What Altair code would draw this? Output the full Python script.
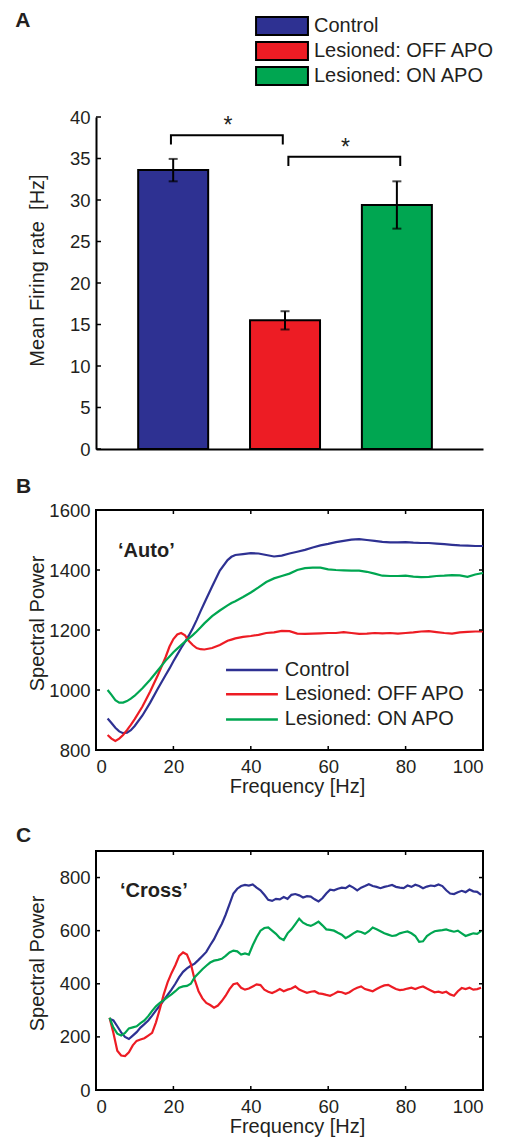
import altair as alt
import pandas as pd

FONT = "Liberation Sans"
INK = "#231F20"

groups = ["Control", "Lesioned: OFF APO", "Lesioned: ON APO"]
bar_colors = ["#2E3192", "#ED1C24", "#00A651"]
line_colors = ["#2E3192", "#ED1C24", "#00A651"]

# ---------------- Panel A: mean firing rate ----------------
bar_pos = [1, 2, 3]
rate_mean = [33.6, 15.5, 29.4]
rate_err = [1.35, 1.1, 2.85]
rate_ticks = [0, 5, 10, 15, 20, 25, 30, 35, 40]

bracket_x0 = [0.98, 2.03]
bracket_x1 = [1.98, 3.03]
bracket_top = [37.8, 35.2]
bracket_leg = [36.7, 34.1]
star_x = [1.49, 2.54]
star_y = [38.1, 35.45]

legA_x0, legA_x1, legA_text_x = 1.741, 2.205, 2.259
legA_y = [50.96, 47.95, 44.94]
legA_half = 1.085
letterA = (-0.411, 51.6)

# ---------------- Panel B: 'Auto' spectra ----------------
auto_freq = [3, 4, 5, 6, 7, 8, 9, 10, 12, 14, 16, 18, 19, 20, 21, 22, 23, 24, 25, 26,
             27, 28, 30, 32, 34, 35, 36, 38, 40, 42, 44, 46, 48, 50, 52, 54, 56, 58, 60, 62,
             64, 66, 68, 70, 72, 74, 76, 78, 80, 82, 84, 86, 88, 90, 92, 94, 96, 98, 100]
auto_control = [905, 890, 874, 862, 856, 858, 866, 880, 915, 958, 1005, 1050, 1072, 1096, 1118, 1140, 1160, 1182, 1206, 1233,
                1262, 1290, 1345, 1398, 1433, 1444, 1450, 1453, 1456, 1455, 1450, 1445, 1448, 1455, 1461, 1467, 1475, 1482, 1487, 1493,
                1497, 1501, 1503, 1500, 1497, 1494, 1492, 1492, 1493, 1491, 1490, 1490, 1488, 1486, 1484, 1482, 1481, 1480, 1480]
auto_off = [850, 838, 830, 838, 850, 866, 884, 903, 945, 995, 1050, 1110, 1145, 1170, 1185, 1190, 1182, 1163, 1150, 1140,
            1136, 1135, 1140, 1150, 1164, 1168, 1172, 1177, 1180, 1184, 1190, 1192, 1197, 1196, 1188, 1187, 1188, 1189, 1190, 1190,
            1193, 1190, 1187, 1188, 1190, 1189, 1190, 1188, 1190, 1192, 1195, 1196, 1193, 1190, 1188, 1192, 1194, 1195, 1195]
auto_on = [1000, 984, 966, 958, 958, 963, 971, 981, 1006, 1034, 1066, 1098, 1112, 1126, 1138, 1150, 1161, 1172, 1183, 1195,
           1208, 1222, 1246, 1265, 1282, 1290, 1296, 1310, 1325, 1342, 1360, 1372, 1380, 1388, 1400, 1406, 1408, 1408, 1402, 1400,
           1399, 1398, 1398, 1394, 1388, 1381, 1380, 1380, 1381, 1378, 1376, 1377, 1380, 1381, 1383, 1382, 1377, 1385, 1390]
auto_yticks = [800, 1000, 1200, 1400, 1600]
freq_ticks = [0, 20, 40, 60, 80, 100]
legB_x0, legB_x1, legB_text_x = 33.6, 47.0, 48.8
legB_y = [1067, 986, 902]
auto_label = (5.7, 1443)
letterB = (-20.7, 1677)

# ---------------- Panel C: 'Cross' spectra ----------------
cross_freq = [3.5, 4.5, 5.5, 6.5, 7.5, 8.5, 9.5, 10.5, 11.5, 12.5,
              13.5, 14.5, 15.5, 16.5, 17.5, 18.5, 19.5, 20.5, 21.5, 22.5,
              23.5, 24.5, 25.5, 26.5, 27.5, 28.5, 29.5, 30.5, 31.5, 32.5,
              33.5, 34.5, 35.5, 36.5, 37.5, 38.5, 39.5, 40.5, 41.5, 42.5,
              43.5, 44.5, 45.5, 46.5, 47.5, 48.5, 49.5, 50.5, 51.5, 52.5,
              53.5, 54.5, 55.5, 56.5, 57.5, 58.5, 59.5, 60.5, 61.5, 62.5,
              63.5, 64.5, 65.5, 66.5, 67.5, 68.5, 69.5, 70.5, 71.5, 72.5,
              73.5, 74.5, 75.5, 76.5, 77.5, 78.5, 79.5, 80.5, 81.5, 82.5,
              83.5, 84.5, 85.5, 86.5, 87.5, 88.5, 89.5, 90.5, 91.5, 92.5,
              93.5, 94.5, 95.5, 96.5, 97.5, 98.5, 99.5]
cross_control = [268, 262, 240, 217, 200, 192, 205, 218, 235, 248,
                 262, 280, 300, 318, 338, 358, 378, 400, 425, 445,
                 458, 468, 476, 490, 505, 520, 545, 568, 598, 625,
                 660, 700, 740, 758, 768, 772, 770, 774, 762, 752,
                 735, 716, 712, 720, 718, 727, 720, 735, 738, 733,
                 725, 730, 728, 718, 710, 722, 740, 754, 752, 758,
                 762, 760, 770, 762, 752, 762, 768, 775, 768, 765,
                 760, 765, 768, 772, 765, 762, 760, 770, 765, 773,
                 768, 760, 766, 770, 768, 774, 768, 752, 740, 738,
                 745, 750, 745, 755, 748, 746, 735]
cross_off = [272, 215, 148, 130, 128, 142, 168, 185, 190, 195,
             205, 215, 255, 305, 360, 405, 440, 470, 505, 518,
             510, 475, 415, 372, 345, 328, 320, 310, 318, 335,
             355, 380, 398, 402, 385, 378, 382, 390, 398, 395,
             378, 370, 365, 372, 380, 372, 378, 382, 390, 378,
             372, 366, 370, 372, 364, 362, 358, 355, 362, 370,
             368, 362, 368, 378, 385, 390, 380, 376, 372, 380,
             388, 394, 396, 388, 380, 376, 378, 382, 385, 380,
             386, 390, 382, 375, 368, 370, 366, 370, 360, 355,
             372, 384, 380, 385, 378, 380, 385]
cross_on = [272, 235, 212, 205, 215, 232, 236, 240, 252, 262,
            278, 298, 315, 328, 338, 350, 360, 372, 385, 390,
            392, 400, 425, 440, 455, 468, 480, 487, 490, 494,
            505, 518, 525, 522, 510, 514, 510, 545, 575, 600,
            610, 612, 600, 588, 572, 565, 590, 605, 625, 645,
            630, 622, 618, 625, 634, 620, 605, 603, 600, 592,
            585, 572, 580, 590, 598, 595, 588, 598, 612, 605,
            598, 590, 585, 580, 582, 590, 594, 597, 590, 580,
            558, 560, 580, 590, 598, 600, 602, 605, 600, 596,
            600, 590, 580, 585, 590, 588, 598]
cross_yticks = [0, 200, 400, 600, 800]
cross_label = (6.2, 727)
letterC = (-20.7, 955)

# ================= build =================
W = 387
HA, HB, HC = 332, 240, 239
TICK_FS = 18.5
TEXT_FS = 20

color_bar = alt.Color("group:N", scale=alt.Scale(domain=groups, range=bar_colors), legend=None)
color_line = alt.Color("group:N", scale=alt.Scale(domain=groups, range=line_colors), legend=None)


def txt(**kw):
    base = dict(font=FONT, color=INK, fontSize=TEXT_FS)
    base.update(kw)
    return base


# ---- Panel A ----
xsA = alt.Scale(domain=[0.31, 3.77], nice=False, zero=False, padding=0)
ysA = alt.Scale(domain=[0, 40], nice=False)
xaxA = alt.Axis(labels=False, ticks=False, tickSize=0, domainColor="black", domainWidth=2,
                grid=False, title=None)
yaxA = alt.Axis(values=rate_ticks, format="d", title="Mean Firing rate\u00a0\u00a0[Hz]",
                labelFontSize=TICK_FS, labelPadding=6,
                ticks=False, tickSize=0, domainColor="black", domainWidth=2, grid=False,
                titleFontSize=TEXT_FS, titleFontWeight="normal", titleX=-49, titleY=153,
                labelColor=INK, titleColor=INK, labelFont=FONT, titleFont=FONT)


def XA(f):
    return alt.X(f, type="quantitative", scale=xsA, axis=xaxA)


def YA(f):
    return alt.Y(f, type="quantitative", scale=ysA, axis=yaxA)


dfA = pd.DataFrame({"group": groups, "pos": bar_pos, "mean": rate_mean,
                    "lo": [m - e for m, e in zip(rate_mean, rate_err)],
                    "hi": [m + e for m, e in zip(rate_mean, rate_err)]})
caps = pd.concat([dfA[["pos", "lo"]].rename(columns={"lo": "v"}),
                  dfA[["pos", "hi"]].rename(columns={"hi": "v"})])

bars = alt.Chart(dfA).mark_bar(size=70, stroke="black", strokeWidth=2).encode(
    x=XA("pos"), y=YA("mean"), color=color_bar)
err = alt.Chart(dfA).mark_rule(color="black", strokeWidth=2).encode(
    x=XA("pos"), y=YA("lo"), y2="hi")
capm = alt.Chart(caps).mark_tick(orient="horizontal", size=9, thickness=2, color="black").encode(
    x=XA("pos"), y=YA("v"))

br_rows = []
for i in range(len(bracket_x0)):
    pts = [(bracket_x0[i], bracket_leg[i]), (bracket_x0[i], bracket_top[i]),
           (bracket_x1[i], bracket_top[i]), (bracket_x1[i], bracket_leg[i])]
    for k, (bx, by) in enumerate(pts):
        br_rows.append({"b": i, "k": k, "bx": bx, "by": by})
brackets = alt.Chart(pd.DataFrame(br_rows)).mark_line(color="black", strokeWidth=2).encode(
    x=XA("bx"), y=YA("by"), detail="b:N", order="k:Q")
stars = alt.Chart(pd.DataFrame({"sx": star_x, "sy": star_y, "s": ["*", "*"]})).mark_text(
    **txt(fontSize=23, baseline="alphabetic", align="center")).encode(x=XA("sx"), y=YA("sy"), text="s:N")

legA = pd.DataFrame({"group": groups, "x0": [legA_x0] * 3, "x1": [legA_x1] * 3, "tx": [legA_text_x] * 3,
                     "yc": legA_y,
                     "y0": [y - legA_half for y in legA_y], "y1": [y + legA_half for y in legA_y]})
legA_rect = alt.Chart(legA).mark_rect(stroke="black", strokeWidth=2).encode(
    x=XA("x0"), x2="x1", y=YA("y0"), y2="y1", color=color_bar)
legA_txt = alt.Chart(legA).mark_text(**txt(align="left", baseline="middle")).encode(
    x=XA("tx"), y=YA("yc"), text="group:N")
letA = alt.Chart(pd.DataFrame({"lx": [letterA[0]], "ly": [letterA[1]], "t": ["A"]})).mark_text(
    **txt(fontSize=21, fontWeight="bold", align="left", baseline="middle")).encode(
    x=XA("lx"), y=YA("ly"), text="t:N")
tickA = alt.Chart(pd.DataFrame({"t": rate_ticks})).mark_rule(color="black", strokeWidth=1.5).encode(
    y=YA("t"), x=alt.value(0), x2=alt.value(5))

chartA = alt.layer(bars, err, capm, brackets, stars, legA_rect, legA_txt, letA, tickA).properties(
    width=W, height=HA)


# ---- Panels B and C ----
def spectrum_panel(freq, series, yticks, ydomain, H, title_y, label, label_pos, letter, letter_pos,
                   legend_rows=None):
    xs = alt.Scale(domain=[0, 100], nice=False, zero=False, padding=0)
    ys = alt.Scale(domain=ydomain, nice=False, zero=False, padding=0)
    xax = alt.Axis(values=freq_ticks, format="d", title="Frequency [Hz]", labelFontSize=TICK_FS,
                   labelPadding=7, ticks=False, tickSize=0, domain=False, grid=False,
                   titleFontSize=TEXT_FS, titleFontWeight="normal", titlePadding=1, titleX=201,
                   labelColor=INK, titleColor=INK, labelFont=FONT, titleFont=FONT)
    yax = alt.Axis(values=yticks, format="d", title="Spectral Power", labelFontSize=TICK_FS,
                   labelPadding=6, ticks=False, tickSize=0, domain=False, grid=False,
                   titleFontSize=TEXT_FS, titleFontWeight="normal", titleX=-49, titleY=title_y,
                   labelColor=INK, titleColor=INK, labelFont=FONT, titleFont=FONT)

    def X(f):
        return alt.X(f, type="quantitative", scale=xs, axis=xax)

    def Y(f):
        return alt.Y(f, type="quantitative", scale=ys, axis=yax)

    rows = []
    for g, vals in zip(groups, series):
        for f, v in zip(freq, vals):
            rows.append({"group": g, "freq": f, "val": v})
    lines = alt.Chart(pd.DataFrame(rows)).mark_line(strokeWidth=2.2).encode(
        x=X("freq"), y=Y("val"), color=color_line)
    layers = [lines]
    if legend_rows is not None:
        x0, x1, tx, ys_ = legend_rows
        leg = pd.DataFrame({"group": groups, "x0": [x0] * 3, "x1": [x1] * 3, "tx": [tx] * 3, "yc": ys_})
        layers.append(alt.Chart(leg).mark_rule(strokeWidth=2.5).encode(
            x=X("x0"), x2="x1", y=Y("yc"), color=color_line))
        layers.append(alt.Chart(leg).mark_text(**txt(align="left", baseline="middle")).encode(
            x=X("tx"), y=Y("yc"), text="group:N"))
    layers.append(alt.Chart(pd.DataFrame({"lx": [label_pos[0]], "ly": [label_pos[1]], "t": [label]})).mark_text(
        **txt(fontWeight="bold", align="left", baseline="alphabetic")).encode(
        x=X("lx"), y=Y("ly"), text="t:N"))
    layers.append(alt.Chart(pd.DataFrame({"lx": [letter_pos[0]], "ly": [letter_pos[1]], "t": [letter]})).mark_text(
        **txt(fontSize=21, fontWeight="bold", align="left", baseline="middle")).encode(
        x=X("lx"), y=Y("ly"), text="t:N"))
    yt = pd.DataFrame({"t": yticks})
    xt = pd.DataFrame({"t": freq_ticks})
    layers.append(alt.Chart(yt).mark_rule(color="black", strokeWidth=1.5).encode(
        y=Y("t"), x=alt.value(0), x2=alt.value(4)))
    layers.append(alt.Chart(yt).mark_rule(color="black", strokeWidth=1.5).encode(
        y=Y("t"), x=alt.value(W - 4), x2=alt.value(W)))
    layers.append(alt.Chart(xt).mark_rule(color="black", strokeWidth=1.5).encode(
        x=X("t"), y=alt.value(0), y2=alt.value(4)))
    layers.append(alt.Chart(xt).mark_rule(color="black", strokeWidth=1.5).encode(
        x=X("t"), y=alt.value(H - 4), y2=alt.value(H)))
    return alt.layer(*layers).properties(
        width=W, height=H, view=alt.ViewBackground(stroke="black", strokeWidth=2))


chartB = spectrum_panel(auto_freq, [auto_control, auto_off, auto_on], auto_yticks, [800, 1600], HB, 113,
                        "\u2018Auto\u2019", auto_label, "B", letterB,
                        legend_rows=(legB_x0, legB_x1, legB_text_x, legB_y))
chartC = spectrum_panel(cross_freq, [cross_control, cross_off, cross_on], cross_yticks, [0, 900], HC, 112,
                        "\u2018Cross\u2019", cross_label, "C", letterC)

chart = alt.vconcat(chartA, alt.vconcat(chartB, chartC, spacing=26), spacing=15).properties(
    padding={"left": 14, "top": 9, "right": 0, "bottom": 0}
).configure(font=FONT).configure_view(stroke=None)

chart.save("out.html", embed_options={"renderer": "svg", "actions": False})
